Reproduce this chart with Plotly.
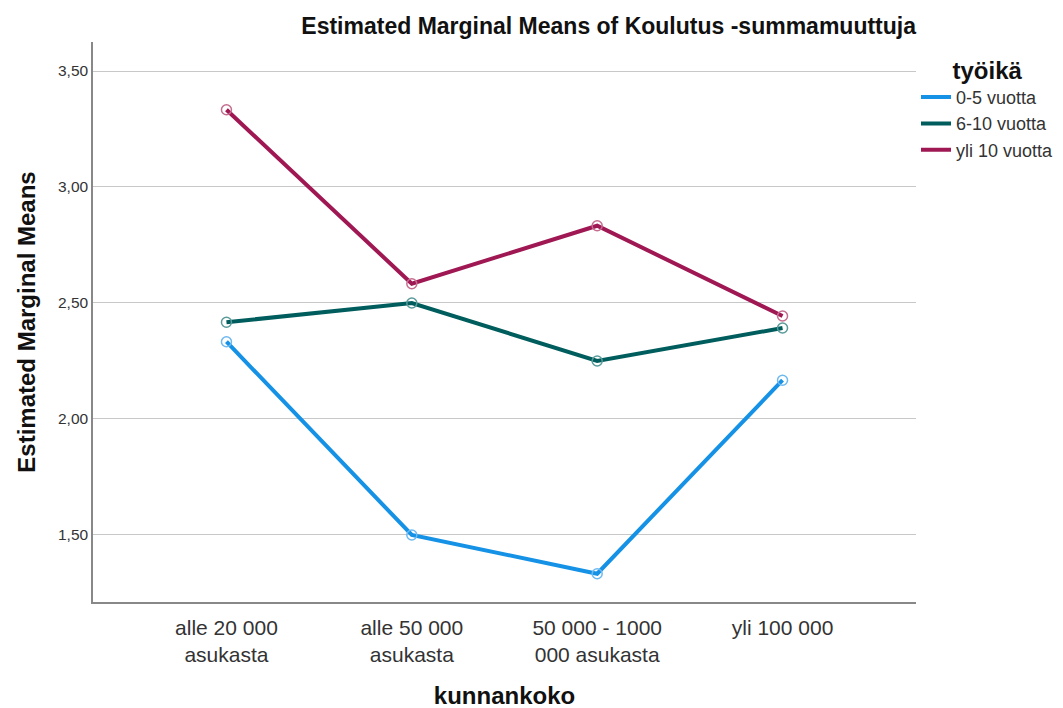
import plotly.graph_objects as go

# kunnankoko categories and means per työikä group
categories = ['alle 20 000<br>asukasta', 'alle 50 000<br>asukasta',
              '50 000 - 1000<br>000 asukasta', 'yli 100 000']
groups = ['0-5 vuotta', '6-10 vuotta', 'yli 10 vuotta']
means_0_5 = [2.333, 1.500, 1.333, 2.167]
means_6_10 = [2.417, 2.500, 2.250, 2.392]
means_yli10 = [3.333, 2.583, 2.833, 2.444]
y_ticks = [1.5, 2.0, 2.5, 3.0, 3.5]

colors = ['#1592e6', '#005d5d', '#9f1853']
marker_colors = ['#6fb9f0', '#5a9a9a', '#c46d8f']

fig = go.Figure()
for name, vals, col in zip(groups, [means_0_5, means_6_10, means_yli10], colors):
    fig.add_trace(go.Scatter(
        x=categories, y=vals, name=name, mode='lines',
        line=dict(color=col, width=4),
    ))
for vals, mcol in zip([means_0_5, means_6_10, means_yli10], marker_colors):
    fig.add_trace(go.Scatter(
        x=categories, y=vals, mode='markers', showlegend=False, hoverinfo='skip',
        marker=dict(symbol='circle-open', size=10, color=mcol, line=dict(width=1.5)),
    ))

# page body adds ~8px offset, so margins are shifted by that amount
fig.update_layout(
    width=1063, height=708,
    margin=dict(l=85, r=153, t=34, b=114),
    plot_bgcolor='white', paper_bgcolor='white',
    separators=', ',
    font=dict(family='Liberation Sans, Arial, sans-serif', color='#222'),
    title=dict(text='<b>Estimated Marginal Means of Koulutus -summamuuttuja</b>',
               xref='paper', x=1.0, xanchor='right', y=0.975, yanchor='middle',
               font=dict(size=23, color='#111')),
    legend=dict(title=dict(text='<b>työikä</b>', side='top center', font=dict(size=24, color='#111')),
                x=1.0, xanchor='left', y=0.99, yanchor='top',
                font=dict(size=18, color='#333'), tracegroupgap=0, itemwidth=30),
    xaxis=dict(categoryorder='array', categoryarray=categories,
               range=[-0.72, 3.72], showgrid=False, showline=True,
               linecolor='#888', linewidth=1.5, ticks='', ticklabelstandoff=6,
               tickfont=dict(size=21, color='#333'),
               title=dict(text='<b>kunnankoko</b>', font=dict(size=24, color='#111'), standoff=22)),
    yaxis=dict(range=[1.211, 3.625], tickvals=y_ticks, tickformat='.2f',
               showgrid=True, gridcolor='#c8c8c8', gridwidth=1.2,
               showline=True, linecolor='#888', linewidth=1.5, ticks='',
               tickfont=dict(size=15.5, color='#333'), zeroline=False,
               title=dict(text='<b>Estimated Marginal Means</b>', font=dict(size=24, color='#111'), standoff=16)),
)

fig.write_html("out.html")
